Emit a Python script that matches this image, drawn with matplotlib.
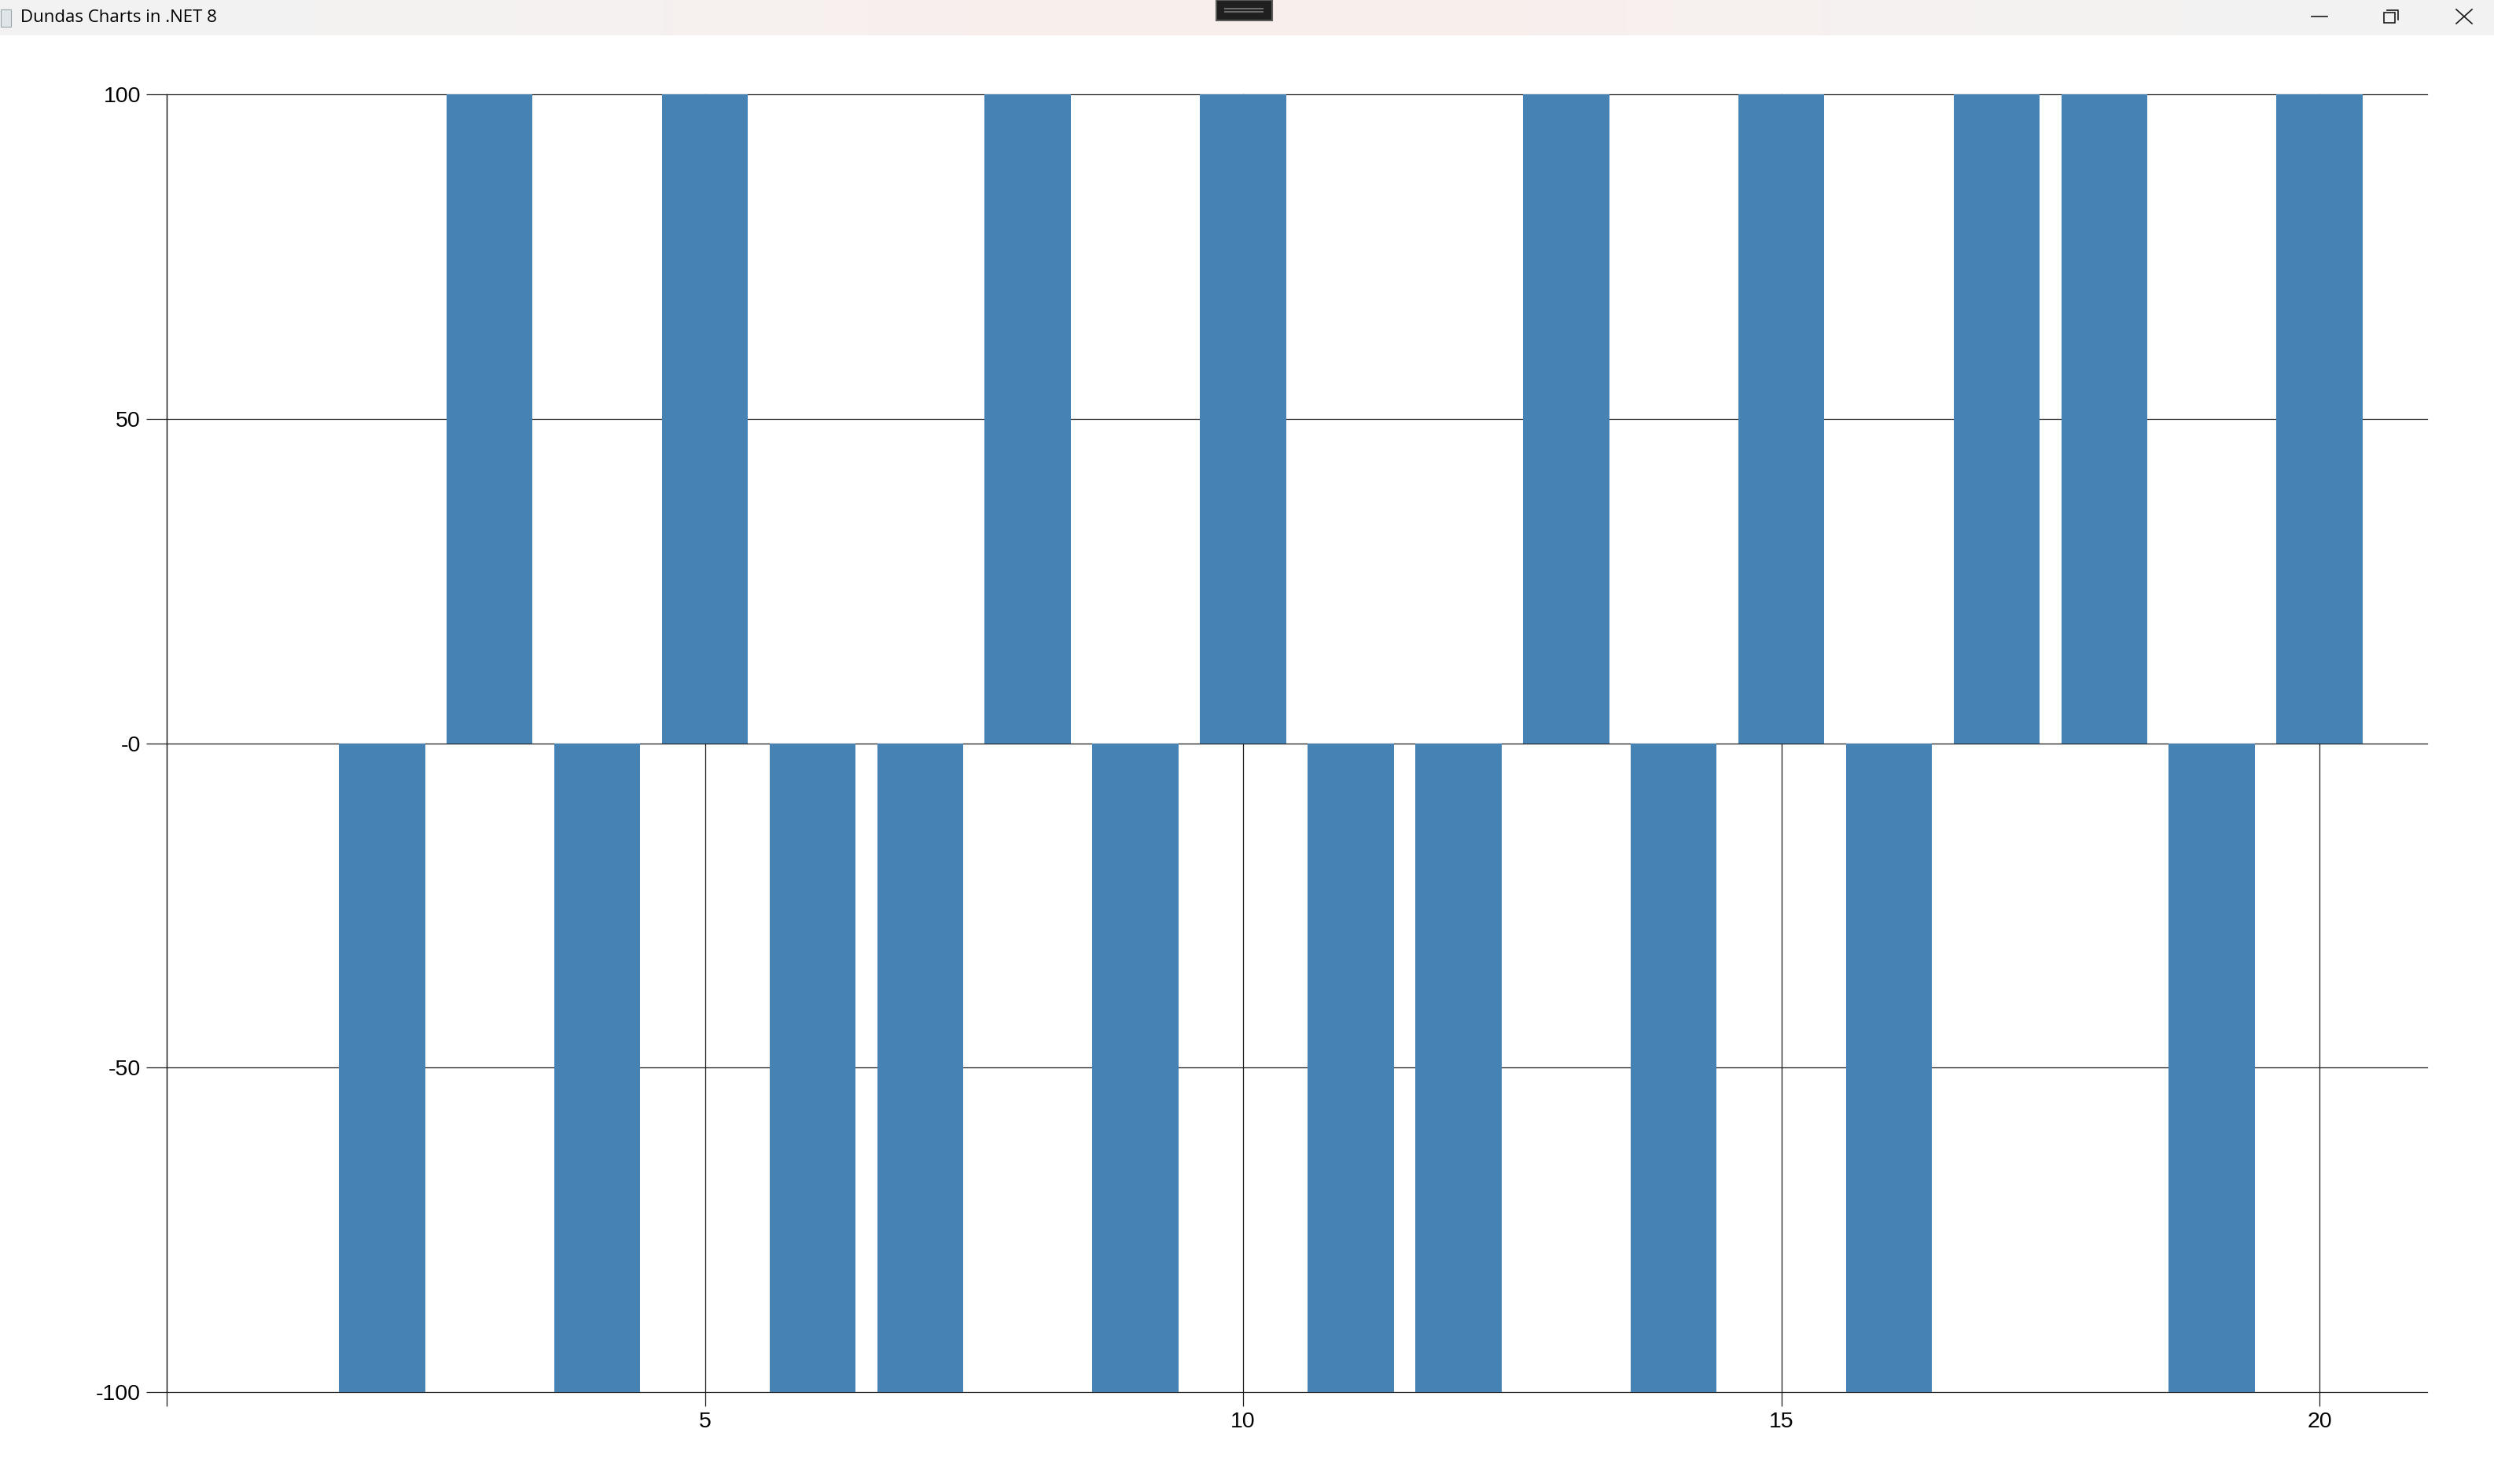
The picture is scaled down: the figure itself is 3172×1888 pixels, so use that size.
import numpy as np
import matplotlib.pyplot as plt
from matplotlib.patches import Rectangle

# -----------------------------
# DATA
# -----------------------------
x_vals = list(range(1, 21))
y_vals = [0, -100, 100, -100, 100, -100, -100, 100, -100, 100,
          -100, -100, 100, -100, 100, -100, 100, 100, -100, 100]
y_ticks = [-100, -50, 0, 50, 100]
y_labels = ['-100', '-50', '-0', '50', '100']
x_ticks = [0, 5, 10, 15, 20]
x_labels = ['', '5', '10', '15', '20']
window_title = "Dundas Charts in .NET 8"

W, H = 3172, 1888
fig = plt.figure(figsize=(W / 100, H / 100), dpi=100)
fig.patch.set_facecolor('white')

# -----------------------------
# TITLE BAR (window chrome)
# -----------------------------
bar_h = 45
tb = fig.add_axes([0, 1 - bar_h / H, 1, bar_h / H])
tb.set_xlim(0, W)
tb.set_ylim(bar_h, 0)
tb.axis('off')
g = np.linspace(0, 1, 256)
t = np.exp(-((g - 0.5) / 0.28) ** 2)
c0 = np.array([0.953, 0.953, 0.953])
c1 = np.array([0.976, 0.937, 0.929])
grad = c0[None, :] * (1 - t[:, None]) + c1[None, :] * t[:, None]
tb.imshow(grad[None, :, :], extent=[0, W, bar_h, 0], aspect='auto')

tb.add_patch(Rectangle((1, 12), 13, 22, facecolor='#dfe6ea', edgecolor='#9aa5ab', lw=0.8))
tb.text(26, 23, window_title, fontsize=16, family=['Open Sans', 'DejaVu Sans'],
        va='center', ha='left', color='black')

# center drag handle
tb.add_patch(Rectangle((1547, 0), 71, 26, facecolor='#1f1f1f', edgecolor='#5a5a5a', lw=1.5))
tb.plot([1558, 1606], [11, 11], color='#6a6a6a', lw=1.5)
tb.plot([1558, 1606], [15, 15], color='#6a6a6a', lw=1.5)

# window buttons
tb.plot([2940, 2960], [21, 21], color='#1a1a1a', lw=1.2)
tb.add_patch(Rectangle((3032, 16), 14, 13, facecolor='none', edgecolor='#1a1a1a', lw=1.2))
tb.plot([3036, 3050, 3050], [13, 13, 25], color='#1a1a1a', lw=1.2)
tb.plot([3124, 3144], [12, 30], color='#1a1a1a', lw=1.2)
tb.plot([3124, 3144], [30, 12], color='#1a1a1a', lw=1.2)

# -----------------------------
# CHART
# -----------------------------
left, right, top, bottom = 212, 3087, 120, 1771
ax = fig.add_axes([left / W, (H - bottom) / H, (right - left) / W, (bottom - top) / H])

ax.bar(x_vals, y_vals, width=0.8, color='#4682B4', zorder=2)

ax.set_xlim(0, 21)
ax.set_ylim(-100, 100)
ax.set_axisbelow(True)
ax.grid(True, color='#1a1a1a', lw=0.9)

for s in ['top', 'right', 'bottom']:
    ax.spines[s].set_visible(False)
ax.spines['left'].set_color('#1a1a1a')
ax.spines['left'].set_linewidth(0.9)

font = ['Liberation Sans', 'DejaVu Sans']
ax.set_yticks(y_ticks)
ax.set_yticklabels(y_labels, family=font, fontsize=20.5)
ax.set_xticks(x_ticks)
ax.set_xticklabels(x_labels, family=font, fontsize=20.5)
ax.tick_params(axis='y', length=18.7, width=0.9, color='#1a1a1a', pad=5)
ax.tick_params(axis='x', length=13, width=0.9, color='#1a1a1a', pad=5)

for gl in ax.get_ygridlines() + ax.get_xgridlines():
    gl.set_clip_on(False)

fig.savefig('out.png', dpi=100)
